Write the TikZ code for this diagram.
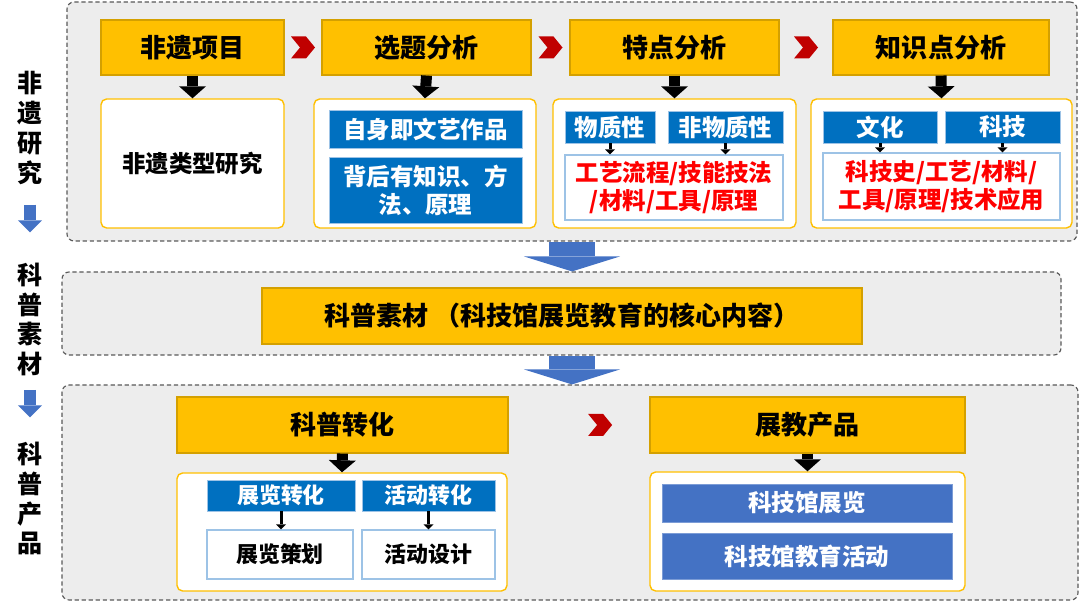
\documentclass[tikz,border=0pt]{standalone}
\usepackage{fontspec}
\setmainfont{Noto Sans CJK SC}
\usepackage{xcolor}
\usetikzlibrary{arrows.meta}

\definecolor{panelgray}{HTML}{EDEDED}
\definecolor{gold}{HTML}{FFC000}
\definecolor{golddark}{HTML}{D4A000}
\definecolor{boxblue}{HTML}{0070C0}
\definecolor{lineblue}{HTML}{9DC3E6}
\definecolor{prodblue}{HTML}{4472C4}
\definecolor{chevred}{HTML}{C00000}
\newcommand{\pxu}{0.025cm}

\begin{document}
\begin{tikzpicture}[x=0.025cm, y=-0.025cm,
  panel/.style={draw=black!65, fill=panelgray, dash pattern=on 3pt off 2pt, line width=0.8pt, rounded corners=5pt},
  hdr/.style={draw=golddark, fill=gold, line width=0.8pt, minimum height=55*\pxu, inner sep=0pt, font=\fontsize{18.5}{22}\selectfont\bfseries},
  wbox/.style={draw=gold, fill=white, line width=1pt, rounded corners=4pt, minimum height=129*\pxu, inner sep=0pt, font=\fontsize{16.7}{20}\selectfont\bfseries},
  tag/.style={draw=lineblue, line width=0.4pt, fill=boxblue, text=white, inner sep=0pt, align=center, font=\fontsize{16.7}{20}\selectfont\bfseries},
  smalltag/.style={tag, font=\fontsize{15.6}{19}\selectfont\bfseries},
  redbox/.style={draw=lineblue, line width=0.8pt, fill=white, text=red, inner sep=0pt, align=center, font=\fontsize{16.7}{19.5}\selectfont\bfseries},
  plainbox/.style={draw=lineblue, line width=0.8pt, fill=white, inner sep=0pt, font=\fontsize{15.6}{19}\selectfont\bfseries},
  prod/.style={draw=prodblue!70, line width=0.5pt, fill=prodblue, text=white, inner sep=0pt, minimum width=290*\pxu, font=\fontsize{16.7}{20}\selectfont\bfseries},
  side/.style={align=center, inner sep=0pt, font=\fontsize{17.8}{21.3}\selectfont\bfseries},
  blkarr/.style={black, line width=0.275cm, -{Triangle[width=0.675cm,length=0.3cm,line width=0pt]}},
  tinyarr/.style={black, line width=0.075cm, -{Triangle[width=0.25cm,length=0.125cm,line width=0pt]}},
  bigarr/.style={prodblue, line width=1.15cm, -{Triangle[width=2.4cm,length=0.375cm,line width=0pt]}},
  sidearr/.style={prodblue, line width=0.3cm, -{Triangle[width=0.6cm,length=0.3cm,line width=0pt]}},
  chev/.pic={\fill[chevred] (-12,-11) -- (3,-11) -- (12,0) -- (3,11) -- (-12,11) -- (-3,0) -- cycle;}]
\useasboundingbox (0,0) rectangle (1080,602);

% panels
\node[panel, minimum width=1010*\pxu, minimum height=239*\pxu] (panA) at (572,121.5) {};
\node[panel, minimum width=999*\pxu, minimum height=83*\pxu] (panB) at (561.5,313.5) {};
\node[panel, minimum width=1016*\pxu, minimum height=215*\pxu] (panC) at (570,492.5) {};

% side labels
\node[side] (lab1) at (30,128) {非\\遗\\研\\究};
\node[side] (lab2) at (30,319.5) {科\\普\\素\\材};
\node[side] (lab3) at (30,498.5) {科\\普\\产\\品};
\draw[sidearr, shorten <=0.49cm, shorten >=0.75cm] (lab1) -- (lab2);
\draw[sidearr, shorten <=0.33cm, shorten >=0.6cm] (lab2) -- (lab3);

% top row
\node[hdr, minimum width=183*\pxu] (h1) at (192.5,47.5) {非遗项目};
\node[hdr, minimum width=209*\pxu] (h2) at (426.5,47.5) {选题分析};
\node[hdr, minimum width=209*\pxu] (h3) at (674.5,47.5) {特点分析};
\node[hdr, minimum width=216*\pxu] (h4) at (941,47.5) {知识点分析};

\node[wbox, minimum width=183*\pxu] (b1) at (192.5,163.5) {非遗类型研究};
\node[wbox, minimum width=222*\pxu] (b2) at (425,163.5) {};
\node[wbox, minimum width=243*\pxu] (b3) at (674.5,163.5) {};
\node[wbox, minimum width=261*\pxu] (b4) at (941.5,163.5) {};

\node[tag, minimum width=193*\pxu, minimum height=38*\pxu] (s1) at (425.5,129) {自身即文艺作品};
\node[tag, minimum width=193*\pxu, minimum height=66*\pxu] (s2) at (425.5,190) {背后有知识、方\\法、原理};

\node[tag, minimum width=90*\pxu, minimum height=32*\pxu] (m1) at (610,127) {物质性};
\node[tag, minimum width=115*\pxu, minimum height=32*\pxu] (m2) at (725.5,127) {非物质性};
\node[redbox, minimum width=218*\pxu, minimum height=65*\pxu] (r3) at (674,187.5) {工艺流程/技能技法\\/材料/工具/原理};

\node[tag, minimum width=114*\pxu, minimum height=32*\pxu] (k1) at (880,127) {文化};
\node[tag, minimum width=115*\pxu, minimum height=32*\pxu] (k2) at (1002.5,127) {科技};
\node[redbox, minimum width=237*\pxu, minimum height=67*\pxu] (r4) at (941.5,186.5) {科技史/工艺/材料/\\工具/原理/技术应用};

\foreach \i in {1,...,4} \draw[blkarr] (h\i.south) -- (b\i.north);
\foreach \a/\b in {m1/r3, m2/r3, k1/r4, k2/r4} \draw[tinyarr] (\a.south) -- (\a.south |- \b.north);

\path (h1) -- (h2) coordinate[pos=.5] (v1);
\path (h2) -- (h3) coordinate[pos=.5] (v2);
\path (h3) -- (h4) coordinate[pos=.5] (v3);
\foreach \v in {v1,v2,v3} \pic at (\v) {chev};

% middle
\node[hdr, minimum width=600*\pxu, minimum height=56*\pxu] (mid) at (562,316) {科普素材 （科技馆展览教育的核心内容）};
\draw[bigarr] (panA.south) -- (panA.south |- panB.north);
\draw[bigarr] (panA.south |- panB.south) -- (panA.south |- panC.north);

% bottom
\node[hdr, minimum width=331*\pxu, minimum height=56*\pxu] (c1) at (342.5,425) {科普转化};
\node[hdr, minimum width=315*\pxu, minimum height=56*\pxu] (c2) at (807.5,425) {展教产品};
\node[wbox, minimum width=330*\pxu, minimum height=118*\pxu] (cb1) at (342,532) {};
\node[wbox, minimum width=315*\pxu, minimum height=119*\pxu] (cb2) at (807.5,531.5) {};

\node[smalltag, minimum width=148*\pxu, minimum height=31*\pxu] (t1) at (281,495.5) {展览转化};
\node[smalltag, minimum width=133*\pxu, minimum height=31*\pxu] (t2) at (428.5,495.5) {活动转化};
\node[plainbox, minimum width=146*\pxu, minimum height=49*\pxu] (d1) at (280,554.5) {展览策划};
\node[plainbox, minimum width=133*\pxu, minimum height=49*\pxu] (d2) at (428.5,554.5) {活动设计};
\node[prod, minimum height=38*\pxu] (e1) at (807,503) {科技馆展览};
\node[prod, minimum height=46*\pxu] (e2) at (807,556) {科技馆教育活动};

\draw[blkarr] (c1.south) -- (cb1.north);
\draw[blkarr] (c2.south) -- (cb2.north);
\draw[tinyarr] (t1.south) -- (d1.north -| t1.south);
\draw[tinyarr] (t2.south) -- (d2.north -| t2.south);
\path (c1) -- (c2) coordinate[pos=.65] (v4);
\pic at (v4) {chev};
\end{tikzpicture}
\end{document}
